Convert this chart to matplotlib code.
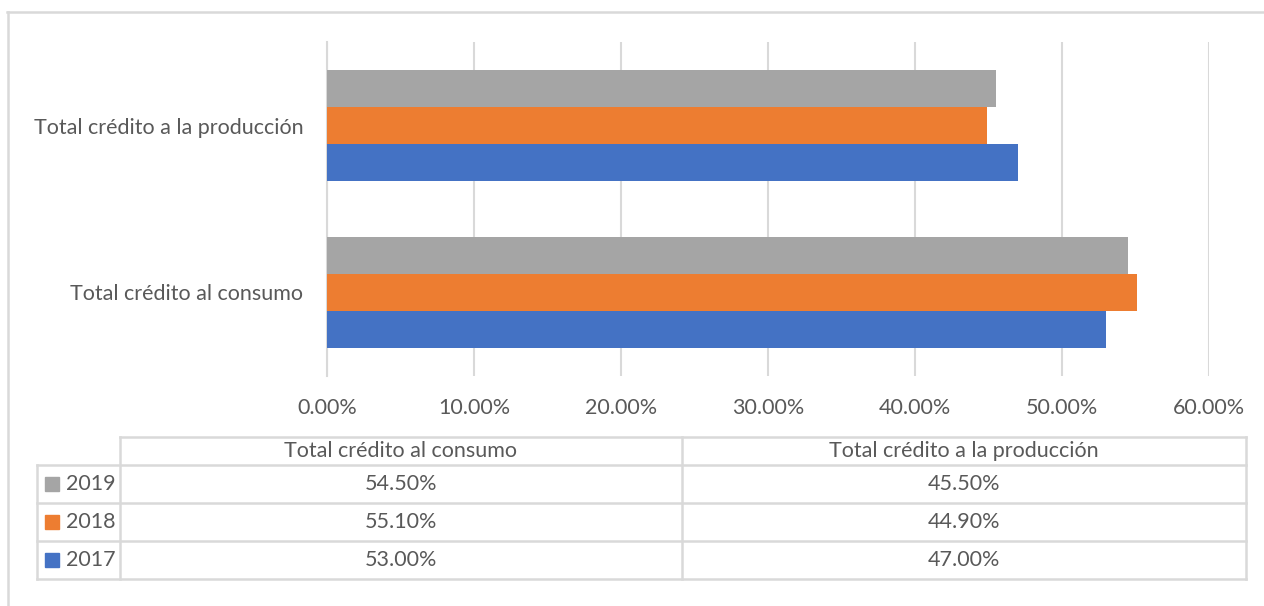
import matplotlib
matplotlib.use("Agg")
import matplotlib.pyplot as plt
from matplotlib.patches import Rectangle

plt.rcParams['font.family'] = ['Lato', 'DejaVu Sans']

categories = ["Total crédito al consumo", "Total crédito a la producción"]
years = ["2017", "2018", "2019"]
values = {
    "2017": [53.00, 47.00],
    "2018": [55.10, 44.90],
    "2019": [54.50, 45.50],
}
colors = {"2017": "#4472C4", "2018": "#ED7D31", "2019": "#A5A5A5"}
ticks = [0, 10, 20, 30, 40, 50, 60]

W, H = 1264, 606
txt = "#595959"
grid = "#D9D9D9"
fs = 15.5

fig = plt.figure(figsize=(W / 100, H / 100), dpi=100)

# main bar axes (pixel box: x 327..1209, y 42..376)
ax = fig.add_axes([327 / W, 1 - 376 / H, (1209 - 327) / W, (376 - 42) / H])
bh = 0.22
for i, yr in enumerate(years):
    off = (i - 1) * bh
    ax.barh([k + off for k in range(len(categories))], values[yr], height=bh,
            color=colors[yr], zorder=3)
ax.set_xlim(0, 60)
ax.set_ylim(-0.5, 1.5)
ax.set_xticks(ticks)
ax.set_xticklabels(["%.2f%%" % t for t in ticks], color=txt, fontsize=fs)
ax.set_yticks(range(len(categories)))
ax.set_yticklabels(categories, color=txt, fontsize=fs)
ax.tick_params(length=0)
ax.tick_params(axis='x', pad=16)
ax.tick_params(axis='y', pad=17)
ax.grid(axis='x', color=grid, lw=1.5, zorder=0)
for s in ["top", "right", "bottom"]:
    ax.spines[s].set_visible(False)
ax.spines["left"].set_color(grid)
ax.spines["left"].set_linewidth(1.5)

# overlay in pixel coordinates for frame and data table
ov = fig.add_axes([0, 0, 1, 1])
ov.set_xlim(0, W)
ov.set_ylim(H, 0)
ov.axis("off")

lw = 1.8
ov.plot([7, W], [12, 12], color=grid, lw=lw)
ov.plot([8, 8], [12, H], color=grid, lw=lw)

x0, x1, x2, x3 = 37, 120, 682, 1246
y_head, rows = 437, [465, 503, 541, 579]
ov.plot([x1, x3], [y_head, y_head], color=grid, lw=lw)
for y in rows:
    ov.plot([x0, x3], [y, y], color=grid, lw=lw)
ov.plot([x0, x0], [rows[0], rows[-1]], color=grid, lw=lw)
for x in (x1, x2, x3):
    ov.plot([x, x], [y_head, rows[-1]], color=grid, lw=lw)

ov.text((x1 + x2) / 2, (y_head + rows[0]) / 2, categories[0], color=txt,
        fontsize=fs, ha="center", va="center")
ov.text((x2 + x3) / 2, (y_head + rows[0]) / 2, categories[1], color=txt,
        fontsize=fs, ha="center", va="center")

for r, yr in enumerate(["2019", "2018", "2017"]):
    yc = (rows[r] + rows[r + 1]) / 2
    ov.add_patch(Rectangle((45, yc - 7), 14, 14, color=colors[yr]))
    ov.text(66, yc, yr, color=txt, fontsize=fs, ha="left", va="center")
    ov.text((x1 + x2) / 2, yc, "%.2f%%" % values[yr][0], color=txt,
            fontsize=fs, ha="center", va="center")
    ov.text((x2 + x3) / 2, yc, "%.2f%%" % values[yr][1], color=txt,
            fontsize=fs, ha="center", va="center")

fig.savefig("out.png", dpi=100)
